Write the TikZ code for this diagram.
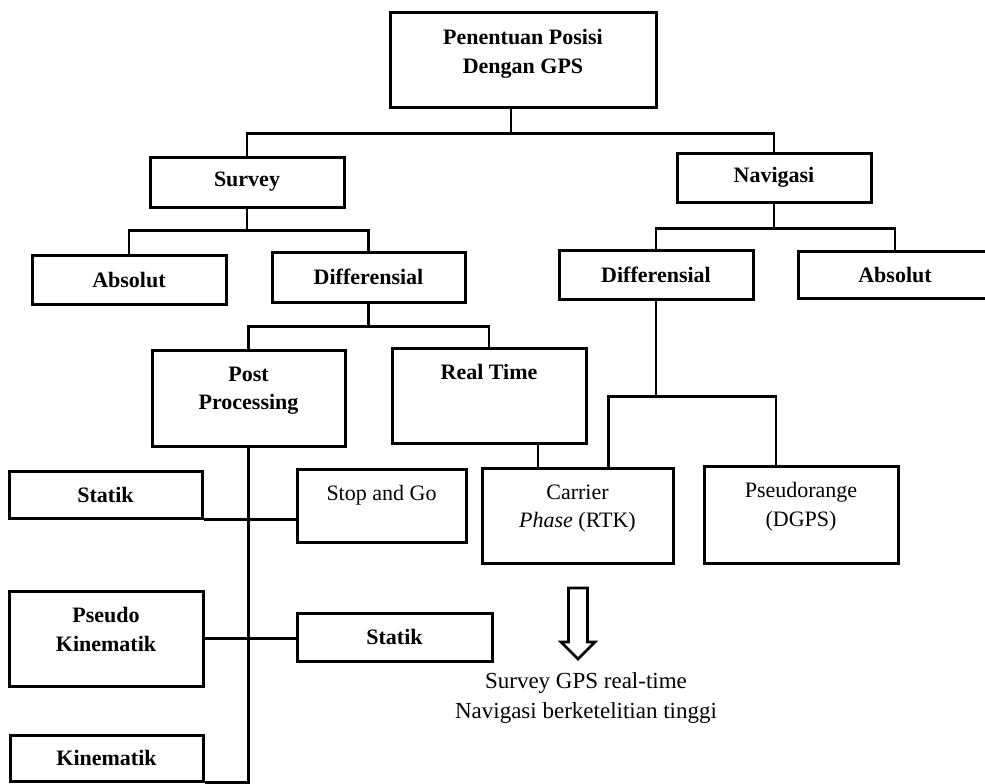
\documentclass[tikz,border=0pt]{standalone}
\usepackage{fontspec}
\setmainfont{Liberation Serif}
\usetikzlibrary{calc}

\tikzset{
  kotak/.style={line width=3pt, draw=black, inner sep=0pt, align=center, font=\bfseries\fontsize{22}{28.5}\selectfont},
  isi/.style={draw=none, anchor=north, inner sep=0pt, align=center, yshift=-18pt, font=\bfseries\fontsize{22}{28.5}\selectfont},
  isibiasa/.style={isi, font=\fontsize{22}{28.5}\selectfont},
  garis/.style={line width=2.6pt},
}

\begin{document}
\begin{tikzpicture}[x=1pt, y=-1pt]
    \useasboundingbox (0,0) rectangle (985,784);

    % kotak utama
    \node[kotak, minimum width=266pt, minimum height=94pt, label={[isi]north:{Penentuan Posisi\\Dengan GPS}}] (gps) at (523,60) {};

    % tingkat 1 dan 2
    \node[kotak, minimum width=194pt, minimum height=50pt] (survey) at (247,182) {Survey};
    \node[kotak, minimum width=194pt, minimum height=49pt] (navigasi) at (774,177.5) {Navigasi};
    \node[kotak, minimum width=194pt, minimum height=49pt] (absolutkiri) at (129,279.5) {Absolut};
    \node[kotak, minimum width=193pt, minimum height=50pt] (difkiri) at (368.5,277) {Differensial};
    \node[kotak, minimum width=194pt, minimum height=49pt] (difkanan) at (656,274.5) {Differensial};
    \node[kotak, minimum width=194pt, minimum height=47pt] (absolutkanan) at (895,274.5) {Absolut};

    % tingkat 3
    \node[kotak, minimum width=193pt, minimum height=96pt, label={[isi]north:{Post\\Processing}}] (post) at (248.5,398) {};
    \node[kotak, minimum width=194pt, minimum height=95pt, label={[isi]north:{Real Time}}] (realtime) at (489,395.5) {};
    \node[kotak, minimum width=191pt, minimum height=95pt, label={[isibiasa]north:{Carrier\\\textit{Phase} (RTK)}}] (carrier) at (577.5,515.5) {};
    \node[kotak, minimum width=194pt, minimum height=97pt, label={[isibiasa]north:{Pseudorange\\(DGPS)}}] (pseudorange) at (801,514.5) {};

    % metode survey
    \node[kotak, minimum width=193pt, minimum height=47pt] (statikatas) at (105.5,494.5) {Statik};
    \node[kotak, minimum width=169pt, minimum height=73pt, label={[isibiasa]north:{Stop and Go}}] (stopgo) at (381.5,505.5) {};
    \node[kotak, minimum width=194pt, minimum height=95pt, label={[isi]north:{Pseudo\\Kinematik}}] (pseudokin) at (106,638.5) {};
    \node[kotak, minimum width=195pt, minimum height=48pt] (statikbawah) at (394.5,637) {Statik};
    \node[kotak, minimum width=193pt, minimum height=46pt] (kinematik) at (106.5,758) {Kinematik};

    % penghubung
    \draw[garis] ([xshift=-12pt]gps.south) -- ++(0,25) coordinate (cabanga);
    \draw[garis] (cabanga) -| (survey.north);
    \draw[garis] (cabanga) -| (navigasi.north);

    \draw[garis] (survey.south) -- ++(0,22) coordinate (cabangb);
    \draw[garis] (cabangb) -| (absolutkiri.north);
    \draw[garis] (cabangb) -| (difkiri.north);

    \draw[garis] (navigasi.south) -- ++(0,25) coordinate (cabangc);
    \draw[garis] (cabangc) -| (difkanan.north);
    \draw[garis] (cabangc) -| (absolutkanan.north);

    \draw[garis] (difkiri.south) -- ++(0,23) coordinate (cabangd);
    \draw[garis] (cabangd) -| (post.north);
    \draw[garis] (cabangd) -| (realtime.north);

    \draw[garis] (difkanan.south) -- ++(0,96) coordinate (cabange);
    \draw[garis] (cabange) -| ([xshift=31pt]carrier.north);
    \draw[garis] (cabange) -| ([xshift=-25pt]pseudorange.north);
    \draw[garis] ([xshift=49pt]realtime.south) -- ([xshift=49pt]realtime.south |- carrier.north);

    \draw[garis] (post.south) -- (post.south |- kinematik.south) -- (kinematik.south east);
    \draw[garis] (statikatas.south east) -- (statikatas.south east -| stopgo.west);
    \draw[garis] (pseudokin.east) -- (pseudokin.east -| statikbawah.west);

    % panah
    \draw[garis, line join=miter] (568.5,588) -- (568.5,642) -- (561,642) -- (578,659)
        -- (595,642) -- (587.5,642) -- (587.5,588) -- cycle;

    % keterangan
    \node[align=center, font=\fontsize{23}{30}\selectfont] (hasil) at (586,698) {Survey GPS real-time\\Navigasi berketelitian tinggi};
\end{tikzpicture}
\end{document}
